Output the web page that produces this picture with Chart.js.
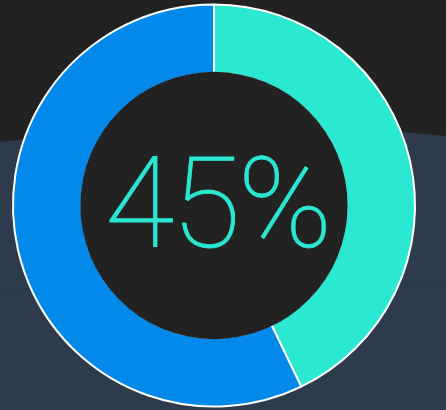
<!DOCTYPE html>
<html>
<head>
<meta charset="utf-8">
<script src="https://cdn.jsdelivr.net/npm/chart.js@4/dist/chart.umd.min.js"></script>
<style>
  html, body { margin: 0; padding: 0; }
  body { width: 446px; height: 410px; overflow: hidden; background: #222222; position: relative; }
  .bg-hill { position: absolute; left: -1700px; top: 126px; width: 3900px; height: 3900px; border-radius: 50%; background: #2e3b4d; }
  .bg-hill2 { position: absolute; left: -1750px; top: 276px; width: 4000px; height: 4000px; border-radius: 50%; background: #2e3b4d; border-top: 1px solid #2a3646; }
  #wrap { position: absolute; left: 0; top: 0; width: 446px; height: 410px; }
  #myChart { display: block; }
  #center-label { position: absolute; left: 0; width: 434px; top: 140px; text-align: center;
    font-family: Roboto, sans-serif; font-weight: 100; font-size: 127px; line-height: 127px;
    color: #2be6d1; letter-spacing: -3px; -webkit-text-stroke: 0.8px #2be6d1; }
</style>
</head>
<body>
<div class="bg-hill"></div>
<div class="bg-hill2"></div>
<div id="wrap"><canvas id="myChart" width="446" height="410"></canvas></div>
<div id="center-label">45%</div>
<script>
// du lieu bieu do
const labels = ['Hoàn thành', 'Còn lại'];
const values = [45, 60];
const colors = ['#2ae8d2', '#0289e9'];

// to mau lo giua de che vien trong
const holeFill = {
    id: 'holeFill',
    afterDatasetsDraw(chart) {
        const arc = chart.getDatasetMeta(0).data[0];
        if (!arc) return;
        const ctx = chart.ctx;
        ctx.save();
        ctx.beginPath();
        ctx.arc(arc.x, arc.y, arc.innerRadius + 1.3, 0, Math.PI * 2);
        ctx.fillStyle = '#222222';
        ctx.fill();
        ctx.restore();
    }
};

const ctx = document.getElementById('myChart');
new Chart(ctx.getContext('2d'), {
    type: 'doughnut',
    data: {
        labels: labels,
        datasets: [{
            data: values,
            backgroundColor: colors,
            borderColor: '#ffffff',
            borderWidth: 2,
            hoverOffset: 0
        }]
    },
    options: {
        responsive: false,
        animation: false,
        radius: 201,
        cutout: 134,
        layout: { padding: { top: 1, right: 18 } },
        plugins: {
            legend: { display: false },
            tooltip: { enabled: false }
        }
    },
    plugins: [holeFill]
});
</script>
</body>
</html>
